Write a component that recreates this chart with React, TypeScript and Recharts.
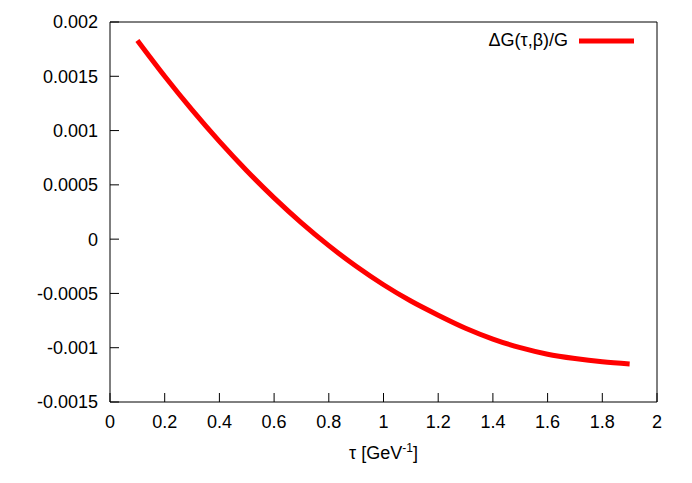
import React from 'react';
import { LineChart, Line, XAxis, YAxis, Legend } from 'recharts';

// τ in GeV^-1
const tau = [0.1, 0.2, 0.3, 0.4, 0.5, 0.6, 0.7, 0.8, 0.9, 1.0, 1.1, 1.2, 1.3, 1.4, 1.5, 1.6, 1.7, 1.8, 1.9];
// ΔG(τ,β)/G
const deltaG = [
  0.00183, 0.0015, 0.00119, 0.0009, 0.00063, 0.00038, 0.00015, -0.00006, -0.00025, -0.00042,
  -0.00057, -0.0007, -0.00082, -0.00092, -0.001, -0.00106, -0.0011, -0.00113, -0.00115,
];

const xTicks = [0, 0.2, 0.4, 0.6, 0.8, 1, 1.2, 1.4, 1.6, 1.8, 2];
const yTicks = [-0.0015, -0.001, -0.0005, 0, 0.0005, 0.001, 0.0015, 0.002];

const data = tau.map((t, i) => ({ tau: t, dg: deltaG[i] }));

const FONT = '"Liberation Sans", Arial, Helvetica, sans-serif';
const tickStyle = { fill: '#000', fontSize: 18, fontFamily: FONT };
const axisLine = { stroke: '#000', strokeWidth: 1 };

const AxisTitle = (props: any) => {
  const vb = props.viewBox || { x: 110, y: 402, width: 547, height: 81 };
  return (
    <text
      x={vb.x + vb.width / 2}
      y={vb.y + 57}
      textAnchor="middle"
      fill="#000"
      fontSize={18}
      fontFamily={FONT}
    >
      τ [GeV<tspan dy={-7} fontSize={12}>-1</tspan>
      <tspan dy={7}>]</tspan>
    </text>
  );
};

const renderLegend = () => (
  <div
    style={{
      position: 'absolute',
      top: 30,
      right: 58,
      display: 'flex',
      alignItems: 'center',
      fontFamily: FONT,
      fontSize: 18,
      color: '#000',
      whiteSpace: 'nowrap',
    }}
  >
    <span>ΔG(τ,β)/G</span>
    <svg width={55} height={10} style={{ marginLeft: 11 }}>
      <line x1={0} x2={55} y1={5} y2={5} stroke="#ff0000" strokeWidth={5} />
    </svg>
  </div>
);

export default function App() {
  return (
    <div style={{ position: 'absolute', left: 0, top: 0, background: '#fff' }}>
      <LineChart width={692} height={483} data={data} margin={{ top: 21, right: 34, bottom: 0, left: 0 }}>
        <XAxis
          dataKey="tau"
          type="number"
          domain={[0, 2]}
          ticks={xTicks}
          interval={0}
          height={81}
          tickSize={-9}
          tickMargin={22}
          tick={tickStyle}
          axisLine={axisLine}
          tickLine={axisLine}
          label={<AxisTitle />}
        />
        <XAxis
          xAxisId="top"
          orientation="top"
          dataKey="tau"
          type="number"
          domain={[0, 2]}
          ticks={xTicks}
          interval={0}
          height={1}
          tickSize={-9}
          tick={false}
          axisLine={axisLine}
          tickLine={axisLine}
        />
        <YAxis
          type="number"
          domain={[-0.0015, 0.002]}
          ticks={yTicks}
          interval={0}
          width={110}
          tickSize={-9}
          tickMargin={21}
          tick={tickStyle}
          tickFormatter={(v: number) => String(v)}
          axisLine={axisLine}
          tickLine={axisLine}
        />
        <YAxis
          yAxisId="right"
          orientation="right"
          type="number"
          domain={[-0.0015, 0.002]}
          ticks={yTicks}
          interval={0}
          width={1}
          tickSize={-9}
          tick={false}
          axisLine={axisLine}
          tickLine={axisLine}
        />
        <Legend content={renderLegend} wrapperStyle={{ top: 0, left: 0, width: 692, height: 0 }} />
        <Line
          type="monotone"
          dataKey="dg"
          stroke="#ff0000"
          strokeWidth={5}
          dot={false}
          activeDot={false}
          isAnimationActive={false}
        />
      </LineChart>
    </div>
  );
}
